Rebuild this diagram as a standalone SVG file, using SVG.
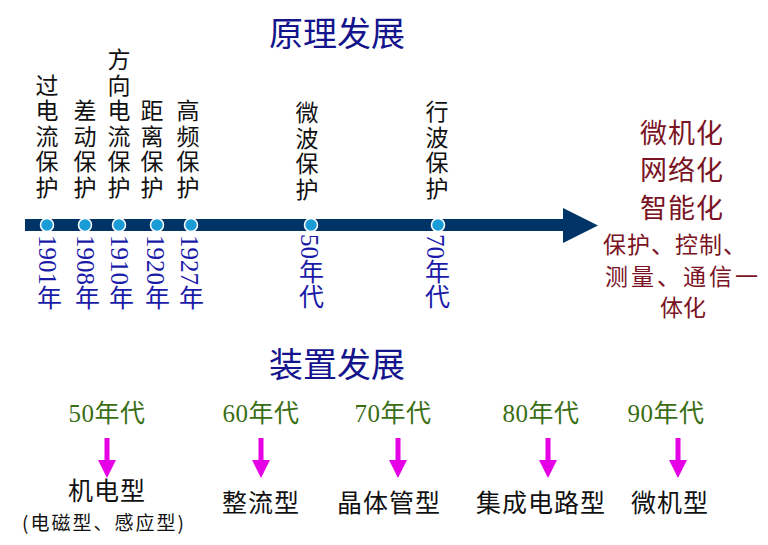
<svg xmlns="http://www.w3.org/2000/svg" width="768" height="545" viewBox="0 0 768 545">
<defs>
<style>
.title{font-family:"Noto Sans CJK SC","Noto Sans",sans-serif;font-size:34px;fill:#14148c;text-anchor:middle}
.lbl{font-family:"Noto Sans CJK SC",sans-serif;font-size:23px;fill:#111;writing-mode:vertical-rl;text-orientation:mixed;letter-spacing:2.5px}
.yr{font-family:"Liberation Serif","Noto Sans CJK SC",serif;font-size:25px;fill:#1a1aa8;writing-mode:vertical-rl;text-orientation:mixed}
.red{font-family:"Noto Sans CJK SC",sans-serif;fill:#7a1424;text-anchor:middle}
.grn{font-family:"Liberation Serif","Noto Sans CJK SC",serif;font-size:25px;fill:#3a6e14;text-anchor:middle;letter-spacing:0.5px}
.dev{font-family:"Noto Sans CJK SC",sans-serif;font-size:25px;fill:#111;text-anchor:middle;letter-spacing:1px}
.sub{font-family:"Noto Sans CJK SC",sans-serif;font-size:19px;fill:#111;text-anchor:middle;letter-spacing:2px}
.dot{fill:#1a9cd6;stroke:#ffffff;stroke-width:1.5}
.marr{fill:#e600e6}
</style>
</defs>
<rect width="768" height="545" fill="#ffffff"/>
<text class="title" x="337" y="46">原理发展</text>
<text class="title" x="337" y="377">装置发展</text>

<g id="connectors">
<rect x="25" y="219" width="542" height="12" fill="#003366"/>
<polygon points="563,208 598,225.5 563,243" fill="#003366"/>
<g id="dev-arrows">
<path class="marr" d="M104.5,438 h5 v22 h6.5 l-9,18 l-9,-18 h6.5 z"/>
<path class="marr" d="M258.5,438 h5 v22 h6.5 l-9,18 l-9,-18 h6.5 z"/>
<path class="marr" d="M395.5,438 h5 v22 h6.5 l-9,18 l-9,-18 h6.5 z"/>
<path class="marr" d="M545.5,438 h5 v22 h6.5 l-9,18 l-9,-18 h6.5 z"/>
<path class="marr" d="M675.5,438 h5 v22 h6.5 l-9,18 l-9,-18 h6.5 z"/>
</g>
</g>

<g id="n1901">
<circle class="dot" cx="47" cy="225" r="6.5"/>
<text class="lbl" x="47" y="73.5">过电流保护</text>
<text class="yr" x="47" y="235">1901年</text>
</g>
<g id="n1908">
<circle class="dot" cx="85" cy="225" r="6.5"/>
<text class="lbl" x="85" y="99">差动保护</text>
<text class="yr" x="85" y="235">1908年</text>
</g>
<g id="n1910">
<circle class="dot" cx="119" cy="225" r="6.5"/>
<text class="lbl" x="119" y="48">方向电流保护</text>
<text class="yr" x="119" y="235">1910年</text>
</g>
<g id="n1920">
<circle class="dot" cx="157" cy="225" r="6.5"/>
<text class="lbl" x="152" y="99">距离保护</text>
<text class="yr" x="155" y="235">1920年</text>
</g>
<g id="n1927">
<circle class="dot" cx="191" cy="225" r="6.5"/>
<text class="lbl" x="188" y="99">高频保护</text>
<text class="yr" x="189" y="235">1927年</text>
</g>
<g id="n50s">
<circle class="dot" cx="311" cy="225" r="6.5"/>
<text class="lbl" x="307" y="101">微波保护</text>
<text class="yr" x="309" y="234">50年代</text>
</g>
<g id="n70s">
<circle class="dot" cx="438" cy="225" r="6.5"/>
<text class="lbl" x="437" y="100">行波保护</text>
<text class="yr" x="435" y="234">70年代</text>
</g>
<g id="future">
<text class="red" font-size="27" x="682" y="143" letter-spacing="1">微机化</text>
<text class="red" font-size="27" x="682" y="180" letter-spacing="1">网络化</text>
<text class="red" font-size="27" x="682" y="218" letter-spacing="1">智能化</text>
<text class="red" font-size="23" x="675" y="253" letter-spacing="1">保护、控制、</text>
<text class="red" font-size="23" x="683" y="285" letter-spacing="3">测量、通信一</text>
<text class="red" font-size="23" x="683" y="316">体化</text>
</g>

<g id="d50">
<text class="grn" x="107" y="422">50年代</text>
<text class="dev" x="107" y="500">机电型</text>
<text class="sub" x="104" y="530">(电磁型、感应型)</text>
</g>
<g id="d60">
<text class="grn" x="261" y="422">60年代</text>
<text class="dev" x="261" y="512">整流型</text>
</g>
<g id="d70">
<text class="grn" x="393" y="422">70年代</text>
<text class="dev" x="389" y="512">晶体管型</text>
</g>
<g id="d80">
<text class="grn" x="541" y="422">80年代</text>
<text class="dev" x="541" y="512">集成电路型</text>
</g>
<g id="d90">
<text class="grn" x="666" y="422">90年代</text>
<text class="dev" x="670" y="512">微机型</text>
</g>
</svg>
